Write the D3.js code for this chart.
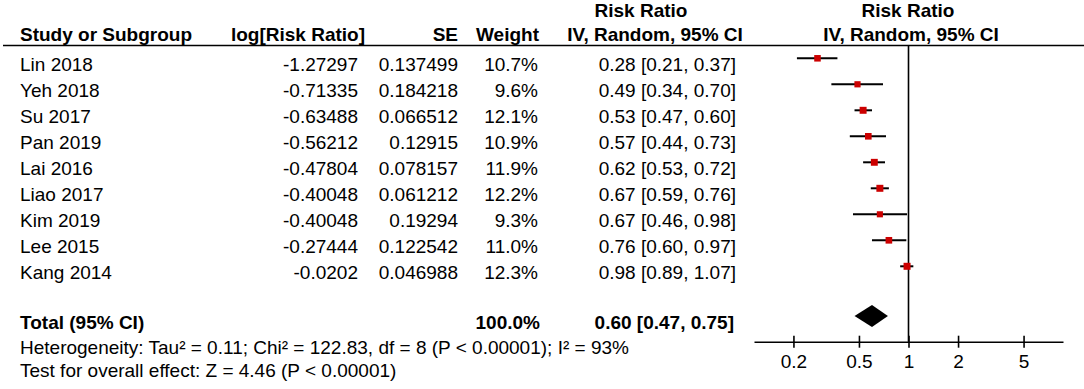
<!DOCTYPE html>
<html><head><meta charset="utf-8">
<script src="https://cdn.jsdelivr.net/npm/d3@7"></script>
<style>
html,body{margin:0;padding:0;background:#fff;}
svg{display:block;font-family:"Liberation Sans",Arial,Helvetica,sans-serif;}
</style></head>
<body>
<svg id="c" width="1084" height="389"></svg>
<script>
const studies = ["Lin 2018","Yeh 2018","Su 2017","Pan 2019","Lai 2016","Liao 2017","Kim 2019","Lee 2015","Kang 2014"];
const logRR = ["-1.27297","-0.71335","-0.63488","-0.56212","-0.47804","-0.40048","-0.40048","-0.27444","-0.0202"];
const seVals = ["0.137499","0.184218","0.066512","0.12915","0.078157","0.061212","0.19294","0.122542","0.046988"];
const weights = [10.7, 9.6, 12.1, 10.9, 11.9, 12.2, 9.3, 11.0, 12.3];
const rr = [0.28, 0.49, 0.53, 0.57, 0.62, 0.67, 0.67, 0.76, 0.98];
const lower = [0.21, 0.34, 0.47, 0.44, 0.53, 0.59, 0.46, 0.60, 0.89];
const upper = [0.37, 0.70, 0.60, 0.73, 0.72, 0.76, 0.98, 0.97, 1.07];
const total = {rr: 0.60, lo: 0.47, hi: 0.75, weight: "100.0%"};
const tickValues = [0.2, 0.5, 1, 2, 5];
const axisExtent = [0.1152, 8.68];
const heterogeneity = "Heterogeneity: Tau² = 0.11; Chi² = 122.83, df = 8 (P < 0.00001); I² = 93%";
const overall = "Test for overall effect: Z = 4.46 (P < 0.00001)";

const svg = d3.select("#c");
const FS = 19;
const x = d3.scaleLog().domain(axisExtent).range([754, 1063]);
const rowY = d3.scaleLinear().domain([0, 1]).range([71, 97]); // text baselines
const markOff = -12.7;
const axisY = 341.7;

const txt = (s, xx, yy, anchor, bold) => svg.append("text")
  .attr("x", xx).attr("y", yy).attr("text-anchor", anchor || "start")
  .attr("font-size", FS).attr("font-weight", bold ? "bold" : "normal")
  .attr("fill", "#000").text(s);

// headers
txt("Risk Ratio", 641, 17, "middle", true);
txt("Risk Ratio", 908, 17, "middle", true);
txt("Study or Subgroup", 20, 41, "start", true);
txt("log[Risk Ratio]", 365, 41, "end", true);
txt("SE", 458, 41, "end", true);
txt("Weight", 539, 41, "end", true);
txt("IV, Random, 95% CI", 655, 41, "middle", true);
txt("IV, Random, 95% CI", 911, 41, "middle", true);
svg.append("line").attr("x1", 3).attr("x2", 1084).attr("y1", 45.5).attr("y2", 45.5)
  .attr("stroke", "#000").attr("stroke-width", 1.6);

const fmt = d3.format(".2f");
studies.forEach((s, i) => {
  const y = rowY(i);
  txt(s, 20, y);
  txt(logRR[i], 358, y, "end");
  txt(seVals[i], 458, y, "end");
  txt(weights[i].toFixed(1) + "%", 538, y, "end");
  txt(`${fmt(rr[i])} [${fmt(lower[i])}, ${fmt(upper[i])}]`, 736, y, "end");
});

// total
const yTot = 329;
txt("Total (95% CI)", 20, yTot, "start", true);
txt(total.weight, 540, yTot, "end", true);
txt(`${fmt(total.rr)} [${fmt(total.lo)}, ${fmt(total.hi)}]`, 734, yTot, "end", true);
txt(heterogeneity, 20, 354);
txt(overall, 20, 377);

// null line
svg.append("line").attr("x1", x(1)).attr("x2", x(1)).attr("y1", 46).attr("y2", axisY)
  .attr("stroke", "#000").attr("stroke-width", 1.6);

// CIs and squares
const g = svg.append("g");
studies.forEach((s, i) => {
  const y = rowY(i) + markOff;
  g.append("line").attr("x1", x(lower[i])).attr("x2", x(upper[i]))
    .attr("y1", y).attr("y2", y).attr("stroke", "#000").attr("stroke-width", 2);
  const sz = Math.sqrt(weights[i]) * 2;
  g.append("rect").attr("x", x(rr[i]) - sz / 2).attr("y", y - sz / 2)
    .attr("width", sz).attr("height", sz).attr("fill", "#cc0000");
});

// diamond
const dy = 316, dh = 11;
svg.append("path").attr("d",
  `M${x(total.lo)},${dy} L${x(total.rr)},${dy - dh} L${x(total.hi)},${dy} L${x(total.rr)},${dy + dh} Z`)
  .attr("fill", "#000");

// axis
const ax = svg.append("g").attr("transform", `translate(0,${axisY})`)
  .call(d3.axisBottom(x).tickValues(tickValues).tickFormat(d3.format("")).tickSizeOuter(0));
ax.select(".domain").attr("stroke-width", 1.6);
ax.selectAll(".tick line").attr("y1", -6).attr("y2", 6).attr("stroke-width", 1.6);
ax.selectAll(".tick text").attr("y", 26.5).attr("dy", 0).attr("font-size", FS)
  .attr("font-family", "'Liberation Sans',Arial,sans-serif").attr("fill", "#000");
</script>
</body></html>
